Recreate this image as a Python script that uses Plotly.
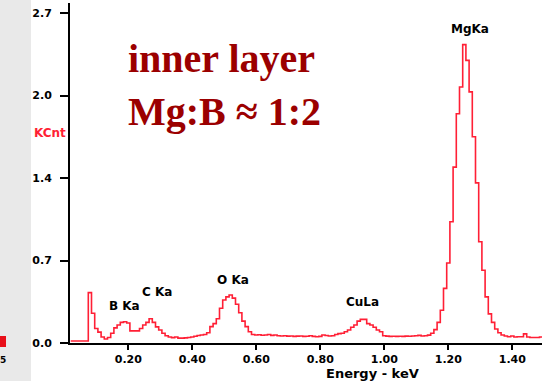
import numpy as np
import plotly.graph_objects as go

# EDS spectrum, 10 eV channels from 0.02 to 1.50 keV
energy_keV = np.round(np.arange(2, 151) / 100, 2)
counts_kcnt = [
    0.016, 0.016, 0.016, 0.016, 0.017, 0.017, 0.415, 0.245, 0.120, 0.090,   # 0.02-0.11
    0.050, 0.033, 0.045, 0.080, 0.125, 0.148, 0.170, 0.175, 0.165, 0.100,   # 0.12-0.21
    0.100, 0.100, 0.120, 0.148, 0.170, 0.200, 0.170, 0.133, 0.107, 0.080,   # 0.22-0.31
    0.060, 0.050, 0.044, 0.050, 0.040, 0.040, 0.042, 0.045, 0.050, 0.056,   # 0.32-0.41
    0.062, 0.066, 0.070, 0.085, 0.135, 0.160, 0.200, 0.286, 0.355, 0.380,   # 0.42-0.51
    0.396, 0.370, 0.320, 0.250, 0.180, 0.135, 0.093, 0.070, 0.066, 0.068,   # 0.52-0.61
    0.064, 0.066, 0.070, 0.063, 0.066, 0.060, 0.058, 0.060, 0.057, 0.058,   # 0.62-0.71
    0.055, 0.057, 0.058, 0.055, 0.056, 0.060, 0.055, 0.052, 0.055, 0.066,   # 0.72-0.81
    0.062, 0.058, 0.060, 0.070, 0.077, 0.080, 0.093, 0.107, 0.130, 0.148,   # 0.82-0.91
    0.180, 0.195, 0.195, 0.160, 0.148, 0.130, 0.107, 0.093, 0.060, 0.057,   # 0.92-1.01
    0.055, 0.056, 0.055, 0.056, 0.055, 0.057, 0.056, 0.058, 0.060, 0.063,   # 1.02-1.11
    0.058, 0.060, 0.065, 0.080, 0.110, 0.170, 0.270, 0.450, 0.660, 1.000,   # 1.12-1.21
    1.450, 1.890, 2.110, 2.460, 2.330, 2.070, 1.700, 1.320, 0.835, 0.600,   # 1.22-1.31
    0.380, 0.240, 0.170, 0.115, 0.085, 0.066, 0.058, 0.052, 0.058, 0.050,   # 1.32-1.41
    0.052, 0.052, 0.075, 0.050, 0.045, 0.045, 0.045, 0.050, 0.050,          # 1.42-1.50
]
assert len(counts_kcnt) == len(energy_keV)

# Axis ticks (the instrument labels multiples of 0.68 kcnt with one decimal)
y_tickvals = [0.0, 0.68, 1.36, 2.04, 2.72]
y_ticktext = ["0.0", "0.7", "1.4", "2.0", "2.7"]
x_tickvals = [0.2, 0.4, 0.6, 0.8, 1.0, 1.2, 1.4]
x_ticktext = ["0.20", "0.40", "0.60", "0.80", "1.00", "1.20", "1.40"]

# Peak identifications: label, energy, height of the label
peak_names = ["B Ka", "C Ka", "O Ka", "CuLa", "MgKa"]
peak_label_x = [0.187, 0.290, 0.527, 0.933, 1.268]
peak_label_y = [0.305, 0.420, 0.520, 0.338, 2.590]

W, H = 544, 381
ML, MR, MT, MB = 70, 2, 3, 38
PW, PH = W - ML - MR, H - MT - MB


def px_x(x):
    return (x - ML) / PW


def px_y(y):
    return (H - MB - y) / PH


fig = go.Figure()
fig.add_trace(go.Scatter(
    x=energy_keV, y=counts_kcnt, mode="lines",
    line=dict(color="#ff1f35", width=1.6, shape="hvh"),
    showlegend=False, hoverinfo="x+y",
))

tick_font = dict(family="DejaVu Sans", size=11, color="black", weight="bold")

fig.update_xaxes(
    range=[0.0178, 0.0178 + PW / 320.0],
    showline=True, linecolor="black", linewidth=2,
    ticks="outside", ticklen=5, tickwidth=1.5, tickcolor="black",
    tickvals=x_tickvals, ticktext=x_ticktext, tickfont=tick_font,
    ticklabelstandoff=0,
    showgrid=False, zeroline=False,
)
fig.update_yaxes(
    range=[0, PH / 121.3],
    showline=True, linecolor="black", linewidth=2,
    ticks="outside", ticklen=8, tickwidth=1.5, tickcolor="black",
    tickvals=y_tickvals, ticktext=y_ticktext, tickfont=tick_font,
    ticklabelstandoff=6,
    showgrid=False, zeroline=False,
)

annotations = []
for name, ex, ey in zip(peak_names, peak_label_x, peak_label_y):
    annotations.append(dict(
        x=ex, y=ey, xref="x", yref="y", text=name, showarrow=False,
        font=dict(family="DejaVu Sans", size=12, color="black", weight="bold"),
        xanchor="center", yanchor="middle",
    ))

# Axis captions
annotations.append(dict(
    x=px_x(372), y=px_y(374), xref="paper", yref="paper", text="Energy - keV",
    showarrow=False, xanchor="center", yanchor="middle",
    font=dict(family="DejaVu Sans", size=13, color="black", weight="bold"),
))
annotations.append(dict(
    x=px_x(68), y=px_y(133), xref="paper", yref="paper", text="KCnt",
    showarrow=False, xanchor="right", yanchor="middle",
    font=dict(family="DejaVu Sans", size=12, color="#ff1f35", weight="bold"),
))

# Slide caption over the spectrum
title_font = dict(family="Liberation Serif", size=40, color="#9b0000", weight="bold")
annotations.append(dict(
    x=px_x(126), y=px_y(59), xref="paper", yref="paper", text="inner layer",
    showarrow=False, xanchor="left", yanchor="middle", font=title_font,
))
annotations.append(dict(
    x=px_x(126), y=px_y(111), xref="paper", yref="paper", text="Mg:B ≈ 1:2",
    showarrow=False, xanchor="left", yanchor="middle", font=title_font,
))
annotations.append(dict(
    x=px_x(3), y=px_y(360), xref="paper", yref="paper", text="5",
    showarrow=False, xanchor="center", yanchor="middle",
    font=dict(family="DejaVu Sans", size=9, color="black", weight="bold"),
))

shapes = [
    # textured slide margin on the left
    dict(type="rect", xref="paper", yref="paper",
         x0=px_x(0), x1=px_x(31), y0=px_y(H), y1=px_y(0),
         fillcolor="#e9e9e9", line=dict(width=0), layer="below"),
    # small red slide marker
    dict(type="rect", xref="paper", yref="paper",
         x0=px_x(0), x1=px_x(6), y0=px_y(347), y1=px_y(336),
         fillcolor="#e8101a", line=dict(width=0), layer="above"),
]

fig.update_layout(
    width=W, height=H,
    margin=dict(l=ML, r=MR, t=MT, b=MB, pad=0),
    paper_bgcolor="white", plot_bgcolor="white",
    annotations=annotations, shapes=shapes,
    showlegend=False,
)

fig.write_html("out.html")
